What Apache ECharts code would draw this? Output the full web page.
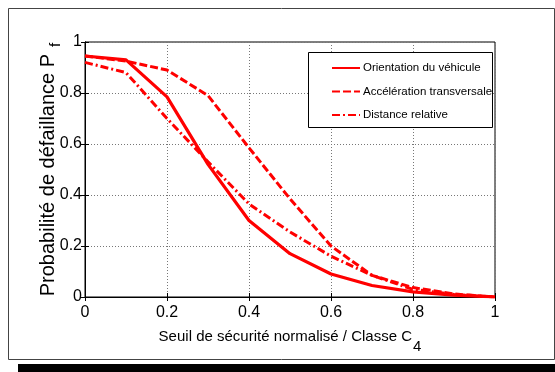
<!DOCTYPE html>
<html><head><meta charset="utf-8">
<script src="https://cdn.jsdelivr.net/npm/echarts@6/dist/echarts.min.js"></script>
<style>html,body{margin:0;padding:0;background:#fff}#c{width:555px;height:372px}</style>
</head><body><div id="c"></div>
<script>
const xValues = [0, 0.1, 0.2, 0.3, 0.4, 0.5, 0.6, 0.7, 0.8, 0.9, 1];
const orientation = [0.945, 0.93, 0.785, 0.52, 0.30, 0.17, 0.09, 0.045, 0.02, 0.007, 0];
const acceleration = [0.945, 0.925, 0.89, 0.79, 0.585, 0.385, 0.2, 0.085, 0.037, 0.012, 0];
const distance = [0.92, 0.88, 0.70, 0.53, 0.365, 0.255, 0.16, 0.085, 0.03, 0.01, 0];
const seriesNames = ['Orientation du véhicule', 'Accélération transversale', 'Distance relative'];
const xTitle = 'Seuil de sécurité normalisé / Classe C';
const xTitleSub = '4';
const yTitle = 'Probabilité de défaillance P';
const yTitleSub = 'f';

const FONT = "'Liberation Sans',Arial,sans-serif";
const RED = '#ff0000';
const pairs = a => xValues.map((x, i) => [x, a[i]]);

const chart = echarts.init(document.getElementById('c'), null, {renderer: 'canvas'});
const gridLine = {show: true, lineStyle: {color: '#777', type: [1, 2], width: 1}};
chart.setOption({
  animation: false,
  backgroundColor: '#fff',
  graphic: [
    {type: 'rect', z: -10, shape: {x: 18, y: 364, width: 540, height: 10}, style: {fill: '#000'}},
    {type: 'rect', z: -9, shape: {x: 8.5, y: 8.5, width: 546, height: 351}, style: {fill: '#fff', stroke: '#444', lineWidth: 1}},
    {type: 'rect', z: 50, shape: {x: 308.5, y: 52.5, width: 184, height: 75}, style: {fill: '#fff', stroke: '#000', lineWidth: 1}}
  ],
  grid: {left: 85, right: 60, top: 42, bottom: 75, show: true, borderColor: '#000', borderWidth: 1},
  legend: {
    orient: 'vertical', left: 308, top: 52, padding: [10, 4, 7, 23], itemGap: 11.5,
    itemWidth: 28, itemHeight: 14, z: 60,
    itemStyle: {opacity: 0},
    textStyle: {fontFamily: FONT, fontSize: 11.5, color: '#000', padding: [0, 0, 0, -2]},
    data: seriesNames
  },
  xAxis: [{
    type: 'value', min: 0, max: 1, interval: 0.2, position: 'bottom',
    axisLine: {show: true, lineStyle: {color: '#000'}},
    axisTick: {show: true, inside: true, length: 4, lineStyle: {color: '#000'}},
    axisLabel: {color: '#000', fontFamily: FONT, fontSize: 16, margin: 8, formatter: v => String(+v.toFixed(1))},
    splitLine: gridLine,
    name: '{m|' + xTitle + '}{s|' + xTitleSub + '}', nameLocation: 'middle', nameGap: 23,
    nameTextStyle: {rich: {
      m: {fontFamily: FONT, fontSize: 15, color: '#000'},
      s: {fontFamily: FONT, fontSize: 15, color: '#000', padding: [19, 0, 0, 1]}
    }}
  }, {
    type: 'value', min: 0, max: 1, interval: 0.2, position: 'top',
    axisLine: {show: true, lineStyle: {color: '#000'}},
    axisTick: {show: true, inside: true, length: 4, lineStyle: {color: '#000'}},
    axisLabel: {show: false}, splitLine: {show: false}
  }],
  yAxis: [{
    type: 'value', min: 0, max: 1, interval: 0.2, position: 'left',
    axisLine: {show: true, lineStyle: {color: '#000'}},
    axisTick: {show: true, inside: true, length: 4, lineStyle: {color: '#000'}},
    axisLabel: {color: '#000', fontFamily: FONT, fontSize: 16, margin: 3, formatter: v => String(+v.toFixed(1))},
    splitLine: gridLine,
    name: '{m|' + yTitle + '}{s|' + yTitleSub + '}', nameLocation: 'middle', nameGap: 22,
    nameMoveOverlap: false,
    nameTextStyle: {rich: {
      m: {fontFamily: FONT, fontSize: 20, color: '#000'},
      s: {fontFamily: FONT, fontSize: 15, color: '#000', padding: [14, 0, 0, 7]}
    }}
  }, {
    type: 'value', min: 0, max: 1, interval: 0.2, position: 'right',
    axisLine: {show: true, lineStyle: {color: '#000'}},
    axisTick: {show: true, inside: true, length: 4, lineStyle: {color: '#000'}},
    axisLabel: {show: false}, splitLine: {show: false}
  }],
  series: [
    {name: seriesNames[0], type: 'line', data: pairs(orientation), symbol: 'none', color: RED, lineStyle: {color: RED, width: 3.2, type: 'solid'}},
    {name: seriesNames[1], type: 'line', data: pairs(acceleration), symbol: 'none', color: RED, lineStyle: {color: RED, width: 3, type: [8, 3]}},
    {name: seriesNames[2], type: 'line', data: pairs(distance), symbol: 'none', color: RED, lineStyle: {color: RED, width: 3, type: [8, 3, 2, 3]}}
  ]
});
</script></body></html>
